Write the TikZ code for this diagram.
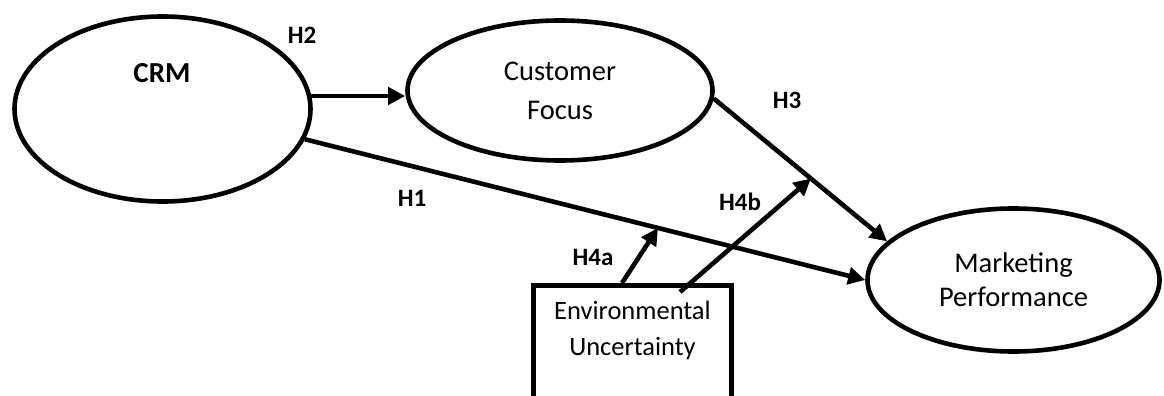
\documentclass[tikz,border=0pt]{standalone}
\usepackage{fontspec}
\setmainfont{Carlito}
\usetikzlibrary{arrows.meta,calc,shapes.geometric}
\begin{document}
\begin{tikzpicture}[x=1pt,y=-1pt,
  every node/.style={inner sep=0pt},
  construct/.style={draw, ellipse, line width=4.6pt},
  envbox/.style={draw, rectangle, line width=4.6pt},
  body/.style={align=center},
  hyp/.style={font=\bfseries\fontsize{25}{30}\selectfont},
  link/.style={line width=4.6pt, -{Triangle[length=17pt,width=17pt]}}
]
\useasboundingbox (0,0) rectangle (1164,396);

% constructs
\node[construct, minimum width=296pt, minimum height=185pt] (crm) at (162.5,109) {};
\node[font=\bfseries\fontsize{29}{34}\selectfont] (crmlbl) at (162,73) {CRM};

\node[construct, minimum width=305pt, minimum height=140pt, body,
      font=\fontsize{28.5}{39}\selectfont] (cf) at (560,90.5) {Customer\\Focus};

\node[construct, minimum width=292pt, minimum height=143pt, body,
      font=\fontsize{28.5}{34}\selectfont] (mp) at (1013.5,280) {Marketing\\Performance};

\node[envbox, minimum width=198pt, minimum height=170pt, anchor=north] (env) at (632.5,283) {};
\node[body, font=\fontsize{26.5}{36}\selectfont] (envlbl) at (632.5,330.5) {Environmental\\Uncertainty};

% hypothesis labels
\node[hyp] (h2) at (302,35) {H2};
\node[hyp] (h1) at (412,198) {H1};
\node[hyp] (h3) at (787,100) {H3};
\node[hyp] (h4a) at (593,257) {H4a};
\node[hyp] (h4b) at (740,202) {H4b};

% paths
\draw[link] (crm.5) -- (crm.5 -| cf.west);
\draw[link] (crm.-12) -- (mp.180);
\draw[link] (cf.-3) -- (mp.163);

\coordinate (h4atip) at ($(crm.-12)!0.63!(mp.180)$);
\coordinate (h4astart) at (622,283);
\draw[link] (h4astart) -- (h4atip);

\coordinate (h4btip) at ($(cf.-3)!0.56!(mp.163)$);
\coordinate (h4bstart) at (680,292);
\draw[link] (h4bstart) -- (h4btip);
\end{tikzpicture}
\end{document}
